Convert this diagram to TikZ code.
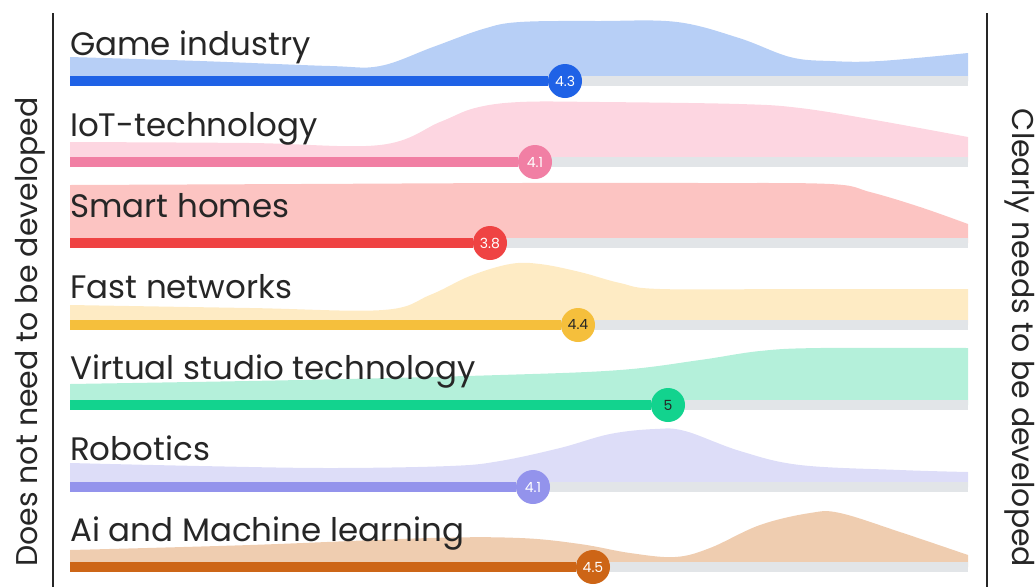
\documentclass[tikz,border=0pt]{standalone}
\usepackage{fontspec}
\setmainfont{Poppins}
\usepackage{tikz}
\usetikzlibrary{calc}

\definecolor{inkgray}{HTML}{262626}
\definecolor{trackgray}{HTML}{E2E5E8}
\definecolor{gamedark}{HTML}{1F62E6}
\definecolor{gamelight}{HTML}{B7CFF6}
\definecolor{iotdark}{HTML}{F17FA4}
\definecolor{iotlight}{HTML}{FDD6E1}
\definecolor{homedark}{HTML}{EF4343}
\definecolor{homelight}{HTML}{FCC4C2}
\definecolor{netdark}{HTML}{F5BF3C}
\definecolor{netlight}{HTML}{FEEBC4}
\definecolor{studiodark}{HTML}{12D38E}
\definecolor{studiolight}{HTML}{B4F0DA}
\definecolor{robodark}{HTML}{9393EC}
\definecolor{robolight}{HTML}{DDDDF8}
\definecolor{aidark}{HTML}{CD6516}
\definecolor{ailight}{HTML}{EFCDB0}

\tikzset{
	track/.style={line width=10pt, color=trackgray},
	valbar/.style={line width=10pt},
	valdot/.style={circle, minimum size=34pt, inner sep=0pt, text=white, font=\fontsize{14}{14}\selectfont},
	rowlabel/.style={anchor=base west, inner sep=0pt, text=inkgray, font=\fontsize{32.5}{32.5}\selectfont},
	sidelabel/.style={inner sep=0pt, text=inkgray, font=\fontsize{30}{30}\selectfont},
}

\begin{document}
\begin{tikzpicture}[x=1pt, y=-1pt]
			%%%%% START %%%%%
			\useasboundingbox (0, 0) rectangle (1035, 587);
			
			\draw[line width=2pt, color=inkgray] (53, 13) -- (53, 587);
			\draw[line width=2pt, color=inkgray] (987, 13) -- (987, 587);
			\node[sidelabel, rotate=90] (leftside) at (30, 332) {Does not need to be developed};
			\node[sidelabel, rotate=-90] (rightside) at (1020, 338) {Clearly needs to be developed};
			
			% Game industry
			\fill[gamelight] (70, 81) -- plot[smooth, tension=0.6] coordinates {(70, 57) (200, 61) (330, 66) (380, 66) (433, 47) (483, 29) (520, 22) (600, 21) (677, 22) (739, 38) (790, 57) (830, 61) (880, 61) (968, 53)} -- (968, 81) -- cycle;
			\coordinate (gameL) at (70, 81);
			\coordinate (gameR) at (968, 81);
			\draw[track] (gameL) -- (gameR);
			\node[valdot, fill=gamedark] (game) at (565, 81) {4.3};
			\draw[valbar, gamedark] (gameL) -- (game);
			\node[rowlabel] (gametext) at (70, 55) {Game industry};
			
			% IoT-technology
			\fill[iotlight] (70, 162) -- plot[smooth, tension=0.6] coordinates {(70, 142) (250, 143) (380, 145) (440, 122) (475, 108) (520, 102) (600, 102) (739, 104) (800, 108) (875, 120) (968, 137)} -- (968, 162) -- cycle;
			\coordinate (iotL) at (70, 162);
			\coordinate (iotR) at (968, 162);
			\draw[track] (iotL) -- (iotR);
			\node[valdot, fill=iotdark] (iot) at (535, 162) {4.1};
			\draw[valbar, iotdark] (iotL) -- (iot);
			\node[rowlabel] (iottext) at (70, 136) {IoT-technology};
			
			% Smart homes
			\fill[homelight] (70, 243) -- plot[smooth, tension=0.6] coordinates {(70, 185) (300, 184) (520, 183) (700, 183) (830, 184) (870, 192) (920, 207) (968, 224)} -- (968, 243) -- cycle;
			\coordinate (homeL) at (70, 243);
			\coordinate (homeR) at (968, 243);
			\draw[track] (homeL) -- (homeR);
			\node[valdot, fill=homedark] (home) at (490, 243) {3.8};
			\draw[valbar, homedark] (homeL) -- (home);
			\node[rowlabel] (hometext) at (70, 217) {Smart homes};
			
			% Fast networks
			\fill[netlight] (70, 325) -- plot[smooth, tension=0.6] coordinates {(70, 305) (250, 308) (383, 310) (430, 295) (470, 276) (510, 264) (540, 264) (580, 272) (620, 283) (660, 289) (800, 289) (968, 289)} -- (968, 325) -- cycle;
			\coordinate (netL) at (70, 325);
			\coordinate (netR) at (968, 325);
			\draw[track] (netL) -- (netR);
			\node[valdot, fill=netdark, text=inkgray] (net) at (578, 325) {4.4};
			\draw[valbar, netdark] (netL) -- (net);
			\node[rowlabel] (nettext) at (70, 298) {Fast networks};
			
			% Virtual studio technology
			\fill[studiolight] (70, 405) -- plot[smooth, tension=0.6] coordinates {(70, 384) (300, 380) (500, 375) (620, 370) (700, 360) (760, 351) (820, 348) (968, 348)} -- (968, 405) -- cycle;
			\coordinate (studioL) at (70, 405);
			\coordinate (studioR) at (968, 405);
			\draw[track] (studioL) -- (studioR);
			\node[valdot, fill=studiodark, text=inkgray] (studio) at (668, 405) {5};
			\draw[valbar, studiodark] (studioL) -- (studio);
			\node[rowlabel] (studiotext) at (70, 379) {Virtual studio technology};
			
			% Robotics
			\fill[robolight] (70, 487) -- plot[smooth, tension=0.6] coordinates {(70, 463) (200, 466) (330, 468) (450, 466) (500, 461) (560, 448) (610, 434) (655, 429) (685, 431) (740, 451) (800, 465) (900, 470) (968, 472)} -- (968, 487) -- cycle;
			\coordinate (roboL) at (70, 487);
			\coordinate (roboR) at (968, 487);
			\draw[track] (roboL) -- (roboR);
			\node[valdot, fill=robodark] (robo) at (533, 487) {4.1};
			\draw[valbar, robodark] (roboL) -- (robo);
			\node[rowlabel] (robotext) at (70, 460) {Robotics};
			
			% Ai and Machine learning
			\fill[ailight] (70, 567) -- plot[smooth, tension=0.6] coordinates {(70, 550) (250, 545) (430, 538) (520, 538) (580, 544) (630, 553) (675, 557) (710, 548) (760, 525) (810, 513) (840, 513) (900, 532) (968, 555)} -- (968, 567) -- cycle;
			\coordinate (aiL) at (70, 567);
			\coordinate (aiR) at (968, 567);
			\draw[track] (aiL) -- (aiR);
			\node[valdot, fill=aidark] (ai) at (593, 567) {4.5};
			\draw[valbar, aidark] (aiL) -- (ai);
			\node[rowlabel] (aitext) at (70, 541) {Ai and Machine learning};
			
			%%%%% END %%%%%
\end{tikzpicture}
\end{document}
